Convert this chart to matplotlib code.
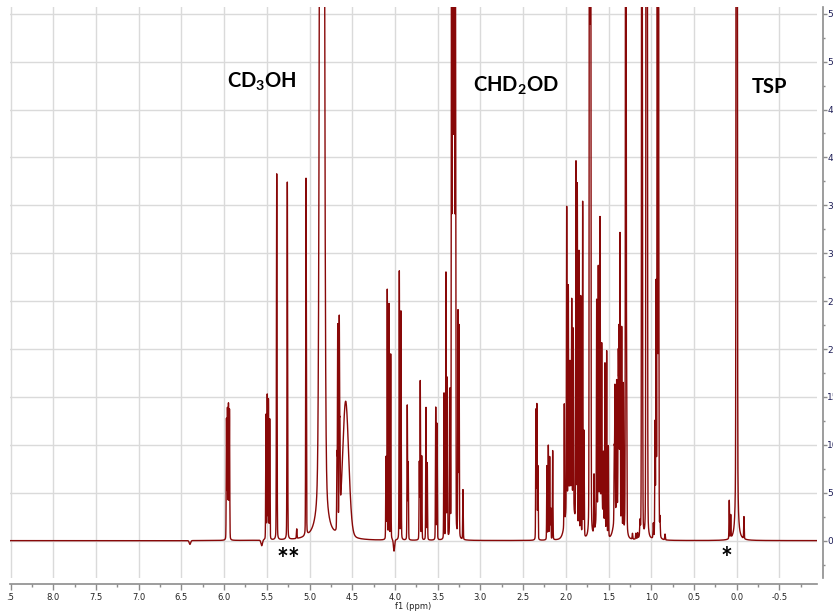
import numpy as np
import matplotlib
matplotlib.use("Agg")
import matplotlib.pyplot as plt
from matplotlib.ticker import MultipleLocator, FormatStrFormatter

plt.rcParams['axes.unicode_minus'] = False
plt.rcParams['mathtext.fontset'] = 'custom'
plt.rcParams['mathtext.rm'] = 'Lato:bold'
plt.rcParams['mathtext.bf'] = 'Lato:bold'
plt.rcParams['mathtext.it'] = 'Lato:bold'

# ---- peak list (ppm, height, half-width in ppm) ----
peak_ppm = [
    5.972, 5.961, 5.949, 5.937,
    5.510, 5.495, 5.481, 5.466,
    5.384, 5.260, 5.150, 5.041,
    4.854,
    4.679, 4.670, 4.652, 4.644, 4.577,
    6.40, 5.56, 4.011,
    4.105, 4.090, 4.070, 4.050,
    3.949, 3.930, 3.856, 3.845,
    3.715, 3.704, 3.687, 3.637, 3.622,
    3.523, 3.508, 3.426, 3.403, 3.388, 3.356,
    3.338, 3.327, 3.315, 3.303, 3.292,
    3.262, 3.250, 3.204,
    2.350, 2.339, 2.327,
    2.221, 2.205, 2.189, 2.177, 2.154,
    2.018, 1.990, 1.971, 1.951, 1.931, 1.913,
    1.881, 1.866, 1.846, 1.826, 1.803, 1.787,
    1.722, 1.710, 1.670,
    1.639, 1.620, 1.600, 1.580, 1.560, 1.542, 1.522, 1.503,
    1.433, 1.425, 1.405, 1.386, 1.378, 1.366, 1.346, 1.327,
    1.298, 1.288, 1.220, 1.180, 1.160, 1.132,
    1.110, 1.103, 1.059, 1.048,
    0.976, 0.956, 0.944, 0.929, 0.915, 0.898, 0.839,
    1.950, 1.600, 1.400,
    0.087, 0.070, 0.000, -0.085,
]
peak_height = [
    12.5, 13.5, 14.0, 13.5,
    13.0, 15.0, 14.5, 12.5,
    38.2, 37.3, 1.0, 37.3,
    300.0,
    7.6, 21.0, 20.7, 8.7, 14.3,
    -0.4, -0.6, -1.2,
    8.5, 26.0, 24.5, 19.3,
    28.0, 23.8, 14.0, 8.0,
    8.0, 16.5, 8.7, 13.8, 8.0,
    13.8, 12.1, 15.2, 27.7, 16.6, 15.0,
    60.0, 120.0, 160.0, 120.0, 60.0,
    23.4, 22.0, 5.2,
    13.5, 14.0, 7.6,
    7.7, 9.8, 8.6, 3.2, 9.3,
    12.7, 31.5, 22.0, 13.5, 20.5, 18.5,
    37.8, 36.0, 29.5, 25.0, 35.0, 11.0,
    130.0, 110.0, 6.0,
    22.8, 25.0, 29.5, 17.0, 7.0, 17.3, 19.2, 9.5,
    7.3, 13.5, 13.5, 16.0, 18.8, 29.8, 21.0, 15.5,
    150.0, 13.9, 0.6, 0.6, 0.6, 1.5,
    120.0, 25.8, 120.0, 100.0,
    1.5, 11.8, 26.0, 90.0, 54.5, 1.9, 0.6,
    5.0, 4.0, 3.0,
    4.0, 2.4, 400.0, 2.3,
]
peak_width = [
    0.0035, 0.0035, 0.0035, 0.0035,
    0.0035, 0.0035, 0.0035, 0.0035,
    0.0040, 0.0040, 0.0040, 0.0040,
    0.0200,
    0.0035, 0.0035, 0.0035, 0.0035, 0.0420,
    0.0100, 0.0100, 0.0080,
    0.0035, 0.0035, 0.0035, 0.0035,
    0.0035, 0.0035, 0.0035, 0.0035,
    0.0035, 0.0035, 0.0035, 0.0035, 0.0035,
    0.0035, 0.0035, 0.0035, 0.0035, 0.0035, 0.0035,
    0.0035, 0.0035, 0.0035, 0.0035, 0.0035,
    0.0035, 0.0035, 0.0035,
    0.0035, 0.0035, 0.0035,
    0.0035, 0.0035, 0.0035, 0.0035, 0.0035,
    0.0035, 0.0035, 0.0035, 0.0035, 0.0035, 0.0035,
    0.0035, 0.0035, 0.0035, 0.0035, 0.0035, 0.0035,
    0.0040, 0.0040, 0.0035,
    0.0035, 0.0035, 0.0035, 0.0035, 0.0035, 0.0035, 0.0035, 0.0035,
    0.0035, 0.0035, 0.0035, 0.0035, 0.0035, 0.0035, 0.0035, 0.0035,
    0.0040, 0.0035, 0.0040, 0.0040, 0.0040, 0.0040,
    0.0040, 0.0035, 0.0040, 0.0040,
    0.0040, 0.0035, 0.0035, 0.0040, 0.0040, 0.0040, 0.0040,
    0.0500, 0.0400, 0.0400,
    0.0035, 0.0035, 0.0050, 0.0035,
]

labels = ["CD$_{\\mathbf{3}}$OH", "CHD$_{\\mathbf{2}}$OD", "TSP"]
label_ppm = [5.963, 3.090, -0.176]
label_y = [47.3, 46.9, 46.7]
star_text = ["**", "*"]
star_ppm = [5.246, 0.120]
star_y = [-2.9, -2.7]

x_ticks = [8.5, 8.0, 7.5, 7.0, 6.5, 6.0, 5.5, 5.0, 4.5, 4.0, 3.5, 3.0,
           2.5, 2.0, 1.5, 1.0, 0.5, 0.0, -0.5]
x_tick_labels = [".5", "8.0", "7.5", "7.0", "6.5", "6.0", "5.5", "5.0", "4.5",
                 "4.0", "3.5", "3.0", "2.5", "2.0", "1.5", "1.0", "0.5", "0.0", "-0.5"]
y_ticks = [0, 5, 10, 15, 20, 25, 30, 35, 40, 45, 50, 55]

# ---- build spectrum from the peak list ----
ppm = np.linspace(8.7, -1.1, 80000)
spec = np.zeros_like(ppm)
eta = 0.15
for p0, h, w in zip(peak_ppm, peak_height, peak_width):
    d = ppm - p0
    lor = w**2 / (w**2 + d**2)
    gau = np.exp(-np.log(2) * d**2 / w**2)
    spec += h * (eta * lor + (1 - eta) * gau)

W, H = 833, 612
fig = plt.figure(figsize=(W / 100, H / 100), dpi=100)
ax = fig.add_axes([10 / W, 1 - 578 / H, 807 / W, 571 / H])

ax.plot(ppm, spec, color='#880808', lw=1.0)
ax.set_xlim(8.506, -0.94)
ax.set_ylim(-3.9, 55.7)

ax.set_xticks(x_ticks)
ax.set_xticklabels(x_tick_labels)
ax.get_xticklabels()[0].set_ha('left')
ax.xaxis.set_minor_locator(MultipleLocator(0.25))
ax.set_yticks(y_ticks)
ax.yaxis.set_minor_locator(MultipleLocator(2.5))
ax.yaxis.set_major_formatter(FormatStrFormatter('%d'))
ax.yaxis.tick_right()

ax.grid(True, which='major', color='#dadada', lw=1.0)
ax.set_axisbelow(True)

for s in ['left', 'top']:
    ax.spines[s].set_visible(False)
for s in ['bottom', 'right']:
    ax.spines[s].set_position(('outward', 4))
    ax.spines[s].set_color('#8c8c8c')
    ax.spines[s].set_linewidth(1.2)

ax.tick_params(axis='x', which='major', direction='out', length=4, width=1,
               color='#8c8c8c', labelsize=6, labelcolor='#222222', pad=3)
ax.tick_params(axis='x', which='minor', direction='out', length=2, width=1,
               color='#8c8c8c')
ax.tick_params(axis='y', which='major', direction='out', length=3, width=1,
               color='#8c8c8c', labelsize=6.5, labelcolor='#1c1c55', pad=0.5)
ax.tick_params(axis='y', which='minor', direction='out', length=1.5, width=1,
               color='#8c8c8c')

ax.set_xlabel('f1 (ppm)', fontsize=6, color='#222222', labelpad=0)

for t, xp, yp in zip(labels, label_ppm, label_y):
    ax.text(xp, yp, t, fontsize=14.5, fontweight='bold', family='Lato',
            ha='left', va='baseline', color='black')
for t, xp, yp in zip(star_text, star_ppm, star_y):
    ax.text(xp, yp, t, fontsize=20, fontweight='bold', family='Lato',
            ha='center', va='baseline', color='black')

fig.savefig('out.png', dpi=100)
